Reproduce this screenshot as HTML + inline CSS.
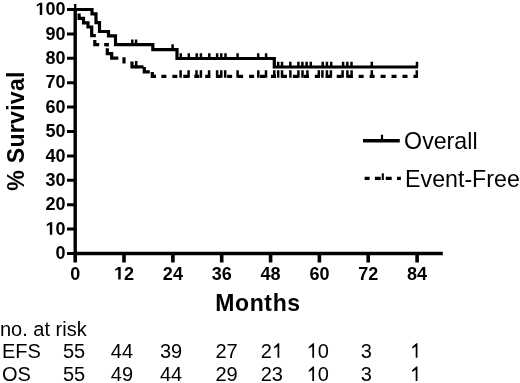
<!DOCTYPE html>
<html><head><meta charset="utf-8"><style>
html,body{margin:0;padding:0;background:#fff;}
body{width:520px;height:383px;overflow:hidden;}
svg{display:block;filter:grayscale(1);}
text{font-family:"Liberation Sans",sans-serif;fill:#000;}
.b{font-weight:bold;}
</style></head><body>
<svg width="520" height="383" viewBox="0 0 520 383">
<g fill="none" stroke="#000" stroke-linecap="butt">
<path d="M75.2 4 V10" stroke-width="2.3"/>
<path d="M75.2 8 V255.2" stroke-width="3.4"/>
<path d="M73.5 253.5 H442.8" stroke-width="3.7"/>
<path d="M67 253.5 H75.2 M67 229.1 H75.2 M67 204.7 H75.2 M67 180.3 H75.2 M67 155.9 H75.2 M67 131.5 H75.2 M67 107.1 H75.2 M67 82.7 H75.2 M67 58.3 H75.2 M67 33.9 H75.2 M67 9.5 H75.2" stroke-width="3"/>
<path d="M75.2 253.3 V262.4 M124.0 253.3 V262.4 M172.9 253.3 V262.4 M221.7 253.3 V262.4 M270.6 253.3 V262.4 M319.4 253.3 V262.4 M368.2 253.3 V262.4 M417.1 253.3 V262.4" stroke-width="3.6"/>
<path d="M75 9.5 H92 V13.9 H96 V22.7 H99.5 V31.5 H108.5 V35.9 H115.5 V44.7 H152.8 V49.6 H177 V58.5 H274.3 V67 H418" stroke-width="3.2" stroke-linejoin="miter"/>
<path d="M132.3 44.7 V39.4 M136.1 44.7 V39.4 M172.6 49.6 V44.3 M180.8 58.5 V53.2 M188.8 58.5 V53.2 M196.7 58.5 V53.2 M200.9 58.5 V53.2 M209.3 58.5 V53.2 M217.1 58.5 V53.2 M221.3 58.5 V53.2 M225.5 58.5 V53.2 M237.6 58.5 V53.2 M258.2 58.5 V53.2 M266.1 58.5 V53.2 M278.2 67.0 V61.7 M282 67.0 V61.7 M290.3 67.0 V61.7 M298.4 67.0 V61.7 M302.4 67.0 V61.7 M306.6 67.0 V61.7 M310.8 67.0 V61.7 M322.7 67.0 V61.7 M326.9 67.0 V61.7 M331.2 67.0 V61.7 M343.1 67.0 V61.7 M347.3 67.0 V61.7 M351.5 67.0 V61.7 M371.8 67.0 V61.7 M417 67.0 V61.7" stroke-width="2.5"/>
<path d="M79.1 13.4 V18.3 H83.5 V22.9 H88 V27 H91.7 V35.7 H95.8 M94.8 40 V44.7 H99.2 M104.2 44.7 H107.3 V46.5 M107.3 48.2 V53.6 H111.7 V58.1 H118.3 M124 57.2 V63.5 M132 61.5 V66.9 H143.5 M144.3 66.9 V71.9 H149.8 M152.3 71.9 V76.3 H156" stroke-width="3.2"/>
<path d="M152 76.3 H417" stroke-width="3.2" stroke-dasharray="5 5.96" stroke-dashoffset="1.58"/>
<path d="M136.2 68.3 V60.9 M180.6 77.7 V70.3 M188.6 77.7 V70.3 M196.5 77.7 V70.3 M200.9 77.7 V70.3 M209.1 77.7 V70.3 M217.1 77.7 V70.3 M221.3 77.7 V70.3 M225.2 77.7 V70.3 M237.6 77.7 V70.3 M258.3 77.7 V70.3 M266 77.7 V70.3 M274.3 77.7 V70.3 M278.2 77.7 V70.3 M282 77.7 V70.3 M290.4 77.7 V70.3 M298.4 77.7 V70.3 M302.5 77.7 V70.3 M307.4 77.7 V70.3 M318.8 77.7 V70.3 M322.4 77.7 V70.3 M326.9 77.7 V70.3 M330.9 77.7 V70.3 M342.6 77.7 V70.3 M347.4 77.7 V70.3 M351.6 77.7 V70.3 M371.8 77.7 V70.3 M416.8 77.7 V70.3" stroke-width="2.5"/>
<path d="M363 140.8 H399.8" stroke-width="3.5"/>
<path d="M382 140.8 V134.7" stroke-width="2.2"/>
<path d="M364.6 178.4 H369.6 M374.9 178.4 H380.7 M385.8 178.4 H391.7 M397 178.4 H400.9" stroke-width="3.3"/>
<path d="M382.8 180 V173.3" stroke-width="2.1"/>
</g>
<g>
<text class="b" x="55.59" y="259.10" font-size="18">0</text>
<path d="M478 0V1170L140 959V1180L493 1409H759V0Z" transform="translate(45.58 234.70) scale(0.00879 -0.00879)"/><text class="b" x="55.59" y="234.70" font-size="18">0</text>
<text class="b" x="45.58" y="210.30" font-size="18">2</text><text class="b" x="55.59" y="210.30" font-size="18">0</text>
<text class="b" x="45.58" y="185.90" font-size="18">3</text><text class="b" x="55.59" y="185.90" font-size="18">0</text>
<text class="b" x="45.58" y="161.50" font-size="18">4</text><text class="b" x="55.59" y="161.50" font-size="18">0</text>
<text class="b" x="45.58" y="137.10" font-size="18">5</text><text class="b" x="55.59" y="137.10" font-size="18">0</text>
<text class="b" x="45.58" y="112.70" font-size="18">6</text><text class="b" x="55.59" y="112.70" font-size="18">0</text>
<text class="b" x="45.58" y="88.30" font-size="18">7</text><text class="b" x="55.59" y="88.30" font-size="18">0</text>
<text class="b" x="45.58" y="63.90" font-size="18">8</text><text class="b" x="55.59" y="63.90" font-size="18">0</text>
<text class="b" x="45.58" y="39.50" font-size="18">9</text><text class="b" x="55.59" y="39.50" font-size="18">0</text>
<path d="M478 0V1170L140 959V1180L493 1409H759V0Z" transform="translate(35.57 15.10) scale(0.00879 -0.00879)"/><text class="b" x="45.58" y="15.10" font-size="18">0</text><text class="b" x="55.59" y="15.10" font-size="18">0</text>
<text class="b" x="70.19" y="279.50" font-size="18">0</text>
<path d="M478 0V1170L140 959V1180L493 1409H759V0Z" transform="translate(114.03 279.50) scale(0.00879 -0.00879)"/><text class="b" x="124.04" y="279.50" font-size="18">2</text>
<text class="b" x="162.87" y="279.50" font-size="18">2</text><text class="b" x="172.88" y="279.50" font-size="18">4</text>
<text class="b" x="211.71" y="279.50" font-size="18">3</text><text class="b" x="221.72" y="279.50" font-size="18">6</text>
<text class="b" x="260.55" y="279.50" font-size="18">4</text><text class="b" x="270.56" y="279.50" font-size="18">8</text>
<text class="b" x="309.39" y="279.50" font-size="18">6</text><text class="b" x="319.40" y="279.50" font-size="18">0</text>
<text class="b" x="358.23" y="279.50" font-size="18">7</text><text class="b" x="368.24" y="279.50" font-size="18">2</text>
<text class="b" x="407.07" y="279.50" font-size="18">8</text><text class="b" x="417.08" y="279.50" font-size="18">4</text>
</g>
<text class="b" font-size="23" letter-spacing="0.6" x="258.0" y="311.2" text-anchor="middle">Months</text>
<text class="b" font-size="23.1" letter-spacing="0.25" transform="translate(23.7 131.0) rotate(-90)" text-anchor="middle">% Survival</text>
<g font-size="23.2">
<text x="404.1" y="148.5">Overall</text>
<text x="405.1" y="187.1">Event-Free</text>
</g>
<g font-size="20">
<text x="0" y="335.7">no. at risk</text>
<text x="2" y="357.7">EFS</text>
<text x="2" y="381">OS</text>
<text x="63.00" y="357.70" font-size="20">5</text><text x="74.12" y="357.70" font-size="20">5</text>
<text x="110.80" y="357.70" font-size="20">4</text><text x="121.92" y="357.70" font-size="20">4</text>
<text x="160.00" y="357.70" font-size="20">3</text><text x="171.12" y="357.70" font-size="20">9</text>
<text x="215.40" y="357.70" font-size="20">2</text><text x="226.52" y="357.70" font-size="20">7</text>
<text x="260.70" y="357.70" font-size="20">2</text><path d="M583 0V1147L221 930V1104L645 1472H763V0Z" transform="translate(271.82 357.70) scale(0.00977 -0.00977)"/>
<path d="M583 0V1147L221 930V1104L645 1472H763V0Z" transform="translate(306.60 357.70) scale(0.00977 -0.00977)"/><text x="317.72" y="357.70" font-size="20">0</text>
<text x="360.70" y="357.70" font-size="20">3</text>
<path d="M583 0V1147L221 930V1104L645 1472H763V0Z" transform="translate(410.00 357.70) scale(0.00977 -0.00977)"/>
<text x="63.00" y="381.00" font-size="20">5</text><text x="74.12" y="381.00" font-size="20">5</text>
<text x="110.80" y="381.00" font-size="20">4</text><text x="121.92" y="381.00" font-size="20">9</text>
<text x="160.00" y="381.00" font-size="20">4</text><text x="171.12" y="381.00" font-size="20">4</text>
<text x="215.40" y="381.00" font-size="20">2</text><text x="226.52" y="381.00" font-size="20">9</text>
<text x="260.70" y="381.00" font-size="20">2</text><text x="271.82" y="381.00" font-size="20">3</text>
<path d="M583 0V1147L221 930V1104L645 1472H763V0Z" transform="translate(306.60 381.00) scale(0.00977 -0.00977)"/><text x="317.72" y="381.00" font-size="20">0</text>
<text x="360.70" y="381.00" font-size="20">3</text>
<path d="M583 0V1147L221 930V1104L645 1472H763V0Z" transform="translate(410.00 381.00) scale(0.00977 -0.00977)"/>
</g>
</svg>
</body></html>
